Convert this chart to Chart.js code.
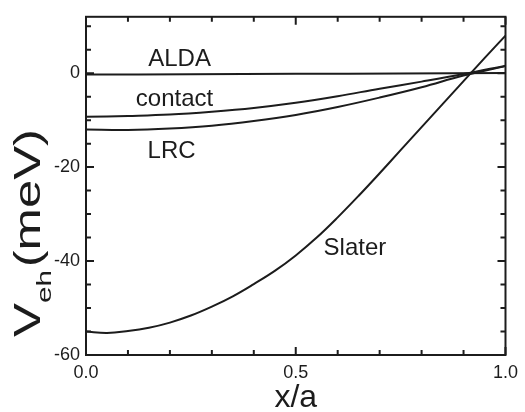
<!DOCTYPE html>
<html>
<head>
<meta charset="utf-8">
<script src="https://cdn.jsdelivr.net/npm/chart.js@4/dist/chart.umd.min.js"></script>
<style>
  html, body { margin: 0; padding: 0; background: #fff; }
  #wrap { width: 525px; height: 412px; }
</style>
</head>
<body>
<div id="wrap"><canvas id="chart" width="525" height="412"></canvas></div>
<script>
// x/a sample points and V_eh (meV)
const xAlda = [0, 0.25, 0.5, 0.75, 1.0];
const alda = [-0.3, -0.25, -0.15, -0.05, 0.05];

const xCurve = [0, 0.1, 0.2, 0.3, 0.4, 0.5, 0.6, 0.7, 0.8, 0.9, 1.0];
const contact = [-9.3, -9.1, -8.8, -8.2, -7.4, -6.3, -4.9, -3.3, -1.8, -0.2, 1.6];
const lrc = [-12.0, -12.1, -11.8, -11.2, -10.2, -8.9, -7.2, -5.2, -3.0, -0.5, 1.5];

const xSlater = [0, 0.05, 0.1, 0.15, 0.2, 0.25, 0.3, 0.35, 0.4, 0.45, 0.5, 0.55, 0.6, 0.65, 0.7, 0.75, 0.8, 0.85, 0.9, 0.95, 1.0];
const slater = [-55.0, -55.3, -54.9, -54.2, -53.1, -51.6, -49.7, -47.5, -44.9, -42.1, -38.8, -35.0, -30.7, -26.1, -21.3, -16.4, -11.5, -6.6, -1.7, 3.2, 8.0];

const xTicks = [0, 0.5, 1.0];
const yTicks = [-60, -40, -20, 0];

const FONT = '"Liberation Sans", Arial, Helvetica, sans-serif';
const INK = '#1c1c1c';

const pts = (xs, ys) => xs.map((x, i) => ({ x, y: ys[i] }));
const line = (label, data) => ({
  label, data, borderColor: INK, borderWidth: 2, pointRadius: 0,
  fill: false, tension: 0.4
});

// frame, inward ticks (major + minor), axis titles and curve names
const decor = {
  id: 'decor',
  afterDraw(chart) {
    const { ctx, chartArea: a, scales: { x, y } } = chart;
    ctx.save();
    ctx.strokeStyle = INK;
    ctx.lineWidth = 2;
    ctx.strokeRect(a.left, a.top, a.right - a.left, a.bottom - a.top);

    ctx.beginPath();
    for (let i = 0; i <= 10; i++) {
      const px = x.getPixelForValue(i / 10);
      const len = i % 5 === 0 ? 8 : 5;
      ctx.moveTo(px, a.bottom); ctx.lineTo(px, a.bottom - len);
      ctx.moveTo(px, a.top); ctx.lineTo(px, a.top + len);
    }
    for (let v = -60; v <= 10; v += 5) {
      const py = y.getPixelForValue(v);
      const len = v % 20 === 0 ? 8 : 5;
      ctx.moveTo(a.left, py); ctx.lineTo(a.left + len, py);
      ctx.moveTo(a.right, py); ctx.lineTo(a.right - len, py);
    }
    ctx.stroke();

    ctx.fillStyle = INK;
    // x title
    ctx.font = '32px ' + FONT;
    ctx.textAlign = 'center';
    ctx.textBaseline = 'alphabetic';
    ctx.fillText('x/a', (a.left + a.right) / 2, 407);

    // y title with subscript, rotated and stretched along its length
    ctx.save();
    ctx.translate(40, 233);
    ctx.rotate(-Math.PI / 2);
    ctx.textAlign = 'left';
    const big = '36px ' + FONT, small = '21px ' + FONT;
    ctx.font = big; const wV = ctx.measureText('V').width;
    ctx.font = small; const wS = ctx.measureText('eh').width;
    ctx.font = big; const wU = ctx.measureText('(meV)').width;
    const total = wV + wS + 2 + wU;
    ctx.scale(208 / total, 1);
    let cx = -total / 2;
    ctx.font = big; ctx.fillText('V', cx, 0); cx += wV;
    ctx.font = small; ctx.fillText('eh', cx, 11); cx += wS + 2;
    ctx.font = big; ctx.fillText('(meV)', cx, 0);
    ctx.restore();

    // curve names
    ctx.font = '24px ' + FONT;
    ctx.textAlign = 'center';
    ctx.textBaseline = 'middle';
    const names = [['ALDA', 0.223, 3.0], ['contact', 0.211, -5.6], ['LRC', 0.204, -16.6], ['Slater', 0.641, -37.4]];
    for (const [t, vx, vy] of names) ctx.fillText(t, x.getPixelForValue(vx), y.getPixelForValue(vy));
    ctx.restore();
  }
};

new Chart(document.getElementById('chart'), {
  type: 'line',
  data: {
    datasets: [
      line('ALDA', pts(xAlda, alda)),
      line('contact', pts(xCurve, contact)),
      line('LRC', pts(xCurve, lrc)),
      line('Slater', pts(xSlater, slater))
    ]
  },
  options: {
    responsive: false,
    animation: false,
    layout: { padding: { top: 10, right: 14, left: 0, bottom: 0 } },
    plugins: { legend: { display: false }, tooltip: { enabled: false } },
    scales: {
      x: {
        type: 'linear', min: 0, max: 1,
        border: { display: false },
        grid: { display: false, drawTicks: false },
        afterBuildTicks: s => { s.ticks = xTicks.map(v => ({ value: v })); },
        afterFit: s => { s.height = 57; },
        ticks: { padding: 7, color: INK, font: { family: FONT, size: 18 }, callback: v => Number(v).toFixed(1), maxRotation: 0 }
      },
      y: {
        type: 'linear', min: -60, max: 12,
        border: { display: false },
        grid: { display: false, drawTicks: false },
        afterBuildTicks: s => { s.ticks = yTicks.map(v => ({ value: v })); },
        afterFit: s => { s.width = 86; },
        ticks: { padding: 6, color: INK, font: { family: FONT, size: 18 }, callback: v => String(v) }
      }
    }
  },
  plugins: [decor]
});
</script>
</body>
</html>
